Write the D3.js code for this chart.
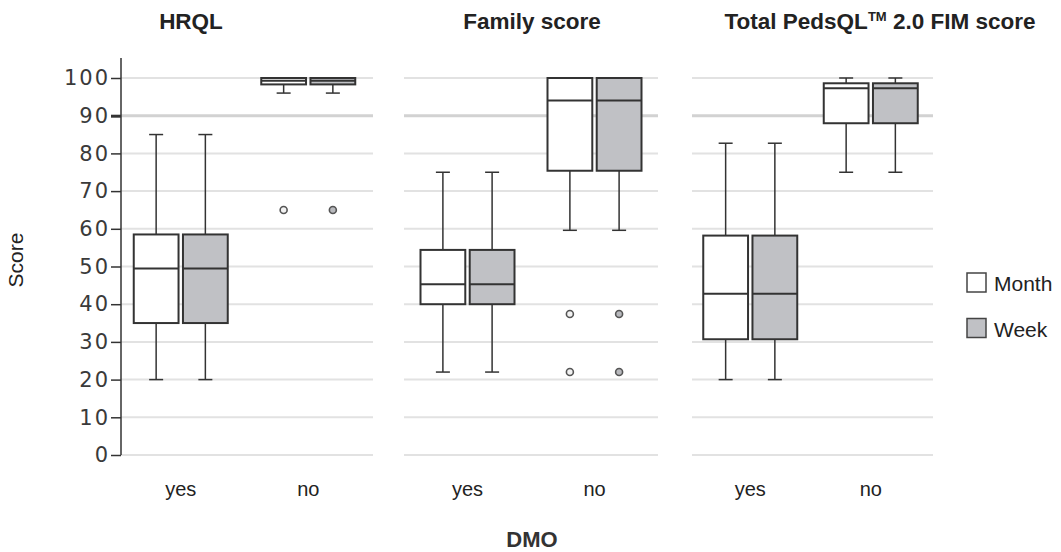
<!DOCTYPE html>
<html>
<head>
<meta charset="utf-8">
<script src="https://cdn.jsdelivr.net/npm/d3@7"></script>
<style>
body { margin: 0; background: #fff; }
svg { display: block; }
</style>
</head>
<body>
<div id="chart"></div>
<script>
var WIDTH = 1061;
var HEIGHT = 552;

// data: [low whisker, q1, median, q3, high whisker]
var panels = ['HRQL', 'Family score', 'Total PedsQL'];
var groups = ['yes', 'no'];
var series = ['Month', 'Week'];
var yTicks = [0, 10, 20, 30, 40, 50, 60, 70, 80, 90, 100];

var hrqlMonth = [[20, 35, 49.5, 58.5, 85], [96, 98.3, 99.3, 100, 100]];
var hrqlWeek = [[20, 35, 49.5, 58.5, 85], [96, 98.3, 99.3, 100, 100]];
var familyMonth = [[22, 40, 45.3, 54.4, 75], [59.6, 75.4, 94, 100, 100]];
var familyWeek = [[22, 40, 45.3, 54.4, 75], [59.6, 75.4, 94, 100, 100]];
var totalMonth = [[20, 30.7, 42.8, 58.2, 82.7], [75, 88, 97.3, 98.6, 100]];
var totalWeek = [[20, 30.7, 42.8, 58.2, 82.7], [75, 88, 97.3, 98.6, 100]];

var hrqlOutliers = [[], [65]];
var familyOutliers = [[], [37.4, 22]];
var totalOutliers = [[], []];

var stats = [[hrqlMonth, hrqlWeek], [familyMonth, familyWeek], [totalMonth, totalWeek]];
var outliers = [hrqlOutliers, familyOutliers, totalOutliers];

// layout
var panelRanges = [[117, 372], [404, 658], [690, 931]];
var gridRanges = [[121, 373], [404, 658], [692, 933]];
var titleX = [191, 532, 880];
var fills = { Month: '#ffffff', Week: '#c0c1c5' };
var dotFills = { Month: '#f2f2f2', Week: '#b8b9bd' };

var svg = d3.select('#chart').append('svg')
	.attr('width', WIDTH)
	.attr('height', HEIGHT);

var y = d3.scaleLinear().domain([0, 100]).range([455, 78]);

var inner = d3.scaleBand().domain(series).range([-47, 47]).paddingInner(0.09);

// gridlines
panels.forEach(function(p, i) {
	svg.append('g').selectAll('line')
		.data(yTicks)
		.enter().append('line')
		.attr('x1', gridRanges[i][0])
		.attr('x2', gridRanges[i][1])
		.attr('y1', function(d) { return y(d); })
		.attr('y2', function(d) { return y(d); })
		.attr('stroke', function(d) { return d == 90 ? '#d2d2d2' : '#e2e2e2'; })
		.attr('stroke-width', function(d) { return d == 90 ? 3 : 2; });
});

// y axis
var axis = svg.append('g')
	.attr('transform', 'translate(121,0)')
	.call(d3.axisLeft(y).tickValues(yTicks).tickSize(10).tickPadding(1));
axis.select('.domain').remove();
axis.selectAll('.tick line')
	.attr('stroke', '#333')
	.attr('stroke-width', function(d) { return d == 90 ? 3 : 1.5; });
axis.selectAll('.tick text')
	.attr('fill', '#3a3a3a')
	.attr('font-family', 'DejaVu Sans, sans-serif')
	.attr('font-size', 21)
	.attr('letter-spacing', 2);
svg.append('line')
	.attr('x1', 121).attr('x2', 121)
	.attr('y1', 58).attr('y2', y(0))
	.attr('stroke', '#333')
	.attr('stroke-width', 1.5);

// boxes
panels.forEach(function(p, i) {
	var x = d3.scaleBand().domain(groups).range(panelRanges[i]);
	var g = svg.append('g');

	groups.forEach(function(grp, gi) {
		var cx = x(grp) + x.bandwidth() / 2;

		series.forEach(function(s, si) {
			var st = stats[i][si][gi];
			var left = cx + inner(s);
			var mid = left + inner.bandwidth() / 2;
			var bw = inner.bandwidth();

			var wh = g.append('g').attr('stroke', '#333').attr('stroke-width', 1.5);
			if (st[0] < st[1]) {
				wh.append('line').attr('x1', mid).attr('x2', mid).attr('y1', y(st[0])).attr('y2', y(st[1]));
				wh.append('line').attr('x1', mid - 7).attr('x2', mid + 7).attr('y1', y(st[0])).attr('y2', y(st[0]));
			}
			if (st[4] > st[3]) {
				wh.append('line').attr('x1', mid).attr('x2', mid).attr('y1', y(st[4])).attr('y2', y(st[3]));
				wh.append('line').attr('x1', mid - 7).attr('x2', mid + 7).attr('y1', y(st[4])).attr('y2', y(st[4]));
			}

			g.append('rect')
				.attr('x', left)
				.attr('y', y(st[3]))
				.attr('width', bw)
				.attr('height', y(st[1]) - y(st[3]))
				.attr('fill', fills[s])
				.attr('stroke', '#333')
				.attr('stroke-width', 2);

			g.append('line')
				.attr('x1', left).attr('x2', left + bw)
				.attr('y1', y(st[2])).attr('y2', y(st[2]))
				.attr('stroke', '#333')
				.attr('stroke-width', 2);

			g.selectAll(null)
				.data(outliers[i][gi])
				.enter().append('circle')
				.attr('cx', mid)
				.attr('cy', function(d) { return y(d); })
				.attr('r', 3.5)
				.attr('fill', dotFills[s])
				.attr('stroke', '#555')
				.attr('stroke-width', 1.6);
		});

		g.append('text')
			.attr('x', cx)
			.attr('y', 496)
			.attr('text-anchor', 'middle')
			.attr('font-family', 'Liberation Sans, Arial, sans-serif')
			.attr('font-size', 20)
			.attr('fill', '#222')
			.text(grp);
	});

	// panel title
	var t = svg.append('text')
		.attr('x', titleX[i])
		.attr('y', 29)
		.attr('text-anchor', 'middle')
		.attr('font-family', 'Liberation Sans, Arial, sans-serif')
		.attr('font-weight', 'bold')
		.attr('font-size', 22.5)
		.attr('fill', '#222');
	if (p == 'Total PedsQL') {
		t.append('tspan').text('Total PedsQL');
		t.append('tspan').attr('font-size', 13).attr('dy', -8).text('TM');
		t.append('tspan').attr('dy', 8).text(' 2.0 FIM score');
	} else {
		t.text(p);
	}
});

// axis titles
svg.append('text')
	.attr('transform', 'translate(23,260) rotate(-90)')
	.attr('text-anchor', 'middle')
	.attr('font-family', 'Liberation Sans, Arial, sans-serif')
	.attr('font-size', 21)
	.attr('fill', '#222')
	.text('Score');

svg.append('text')
	.attr('x', 532)
	.attr('y', 547)
	.attr('text-anchor', 'middle')
	.attr('font-family', 'Liberation Sans, Arial, sans-serif')
	.attr('font-weight', 'bold')
	.attr('font-size', 22)
	.attr('fill', '#333')
	.text('DMO');

// legend
var legend = svg.append('g').selectAll('g')
	.data(series)
	.enter().append('g')
	.attr('transform', function(d, i) { return 'translate(967,' + (273 + i * 45.5) + ')'; });
legend.append('rect')
	.attr('width', 19)
	.attr('height', 19)
	.attr('fill', function(d) { return fills[d]; })
	.attr('stroke', '#444')
	.attr('stroke-width', 1.5);
legend.append('text')
	.attr('x', 27)
	.attr('y', 18)
	.attr('font-family', 'Liberation Sans, Arial, sans-serif')
	.attr('font-size', 21)
	.attr('fill', '#222')
	.text(function(d) { return d; });
</script>
</body>
</html>
